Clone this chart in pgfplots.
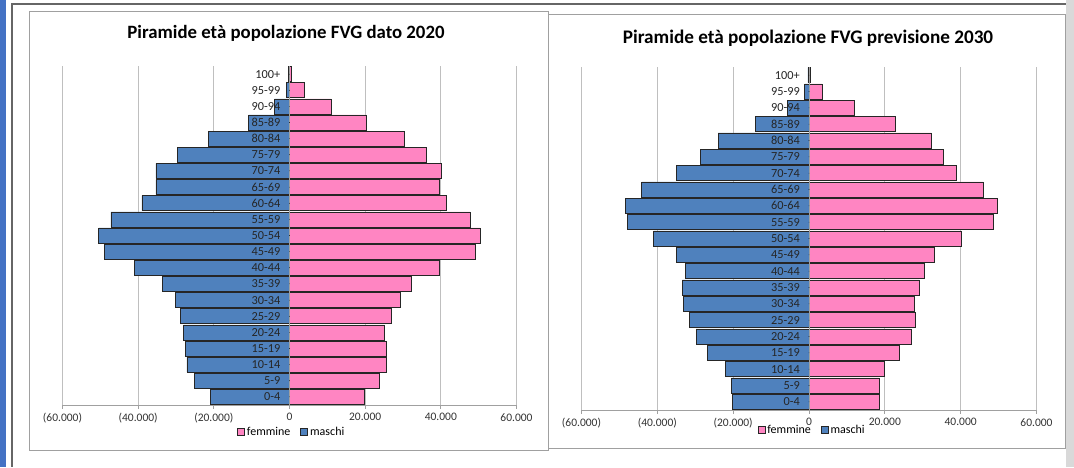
\documentclass[border=0pt]{standalone}
\usepackage{pgfplots}
\pgfplotsset{compat=1.18}
\usepackage{fontspec}
\setmainfont{Carlito}
\definecolor{mblue}{HTML}{4F81BD}
\definecolor{fpink}{HTML}{FF85C2}
\definecolor{gridg}{HTML}{BFBFBF}
\definecolor{axg}{HTML}{A0A0A0}
\definecolor{frameblue}{HTML}{4472C4}

\pgfplotsset{
  pyr/.style={
    scale only axis,
    anchor=south west,
    xmin=-60000, xmax=60000,
    ymin=-0.5, ymax=20.5,
    axis x line*=bottom,
    axis y line=none,
    x axis line style={axg, line width=0.8pt},
    xtick={-60000,-40000,-20000,0,20000,40000,60000},
    xticklabels={{(60.000)},{(40.000)},{(20.000)},0,{20.000},{40.000},{60.000}},
    xtick align=outside,
    major tick length=4pt,
    xtick style={axg, line width=0.8pt},
    xmajorgrids,
    major grid style={gridg, line width=0.8pt},
    ytick=\empty,
    xticklabel style={font=\fontsize{11.5}{13}\selectfont, text=black!80, yshift=-1pt},
    scaled x ticks=false,
    clip=false,
    legend columns=2,
    legend style={draw=none, fill=none, font=\fontsize{12}{13}\selectfont, anchor=center,
      /tikz/every even column/.append style={column sep=8pt}, inner sep=0pt},
    legend image code/.code={\draw[#1, line width=0.7pt] (0pt,-3.5pt) rectangle (7pt,3.5pt);},
  },
  barf/.style={xbar, bar shift=0pt, bar width=15pt, fill=fpink, draw=black!85, line width=0.7pt},
  barm/.style={xbar, bar shift=0pt, bar width=15pt, fill=mblue, draw=black!85, line width=0.7pt},
  labs/.style={only marks, mark=*, mark size=0.01pt, mark options={draw=none, fill=none},
    nodes near coords, point meta=explicit symbolic,
    every node near coord/.append style={anchor=east, xshift=-9pt, inner sep=0pt,
      font=\fontsize{12.3}{13}\selectfont, text=black!85}, forget plot},
}

\begin{document}
\begin{tikzpicture}[x=1pt, y=1pt]
% background and frames
\fill[white] (0pt,0pt) rectangle (1074pt,467pt);
\fill[frameblue] (0pt,0pt) rectangle (6pt,467pt);
\fill[black!15] (1066pt,0pt) rectangle (1074pt,467pt);
\draw[black!60, line width=1.2pt] (12pt,0pt) -- (12pt,463pt) -- (1066pt,463pt);
\draw[axg, line width=1pt] (29pt,16pt) rectangle (548pt,455pt);
\draw[axg, line width=1pt] (548pt,18pt) rectangle (1065pt,452pt);

\node[font=\fontsize{18.8}{20}\selectfont\bfseries] at (286pt,434pt) {Piramide età popolazione FVG dato 2020};
\node[font=\fontsize{19.2}{20}\selectfont\bfseries] at (808pt,429pt) {Piramide età popolazione FVG previsione 2030};

% ---------- 2020 ----------
\begin{axis}[pyr, at={(62.5pt,62pt)}, width=454pt, height=339pt,
  legend style={at={(0.505,-0.08)}}]
\addplot[barf] coordinates {
 (19900,0) (23700,1) (25700,2) (25500,3) (25100,4) (26900,5) (29200,6) (32200,7)
 (39700,8) (49000,9) (50400,10) (47700,11) (41400,12) (39500,13) (40100,14)
 (36100,15) (30400,16) (20300,17) (11000,18) (3900,19) (500,20)};
\addlegendentry{femmine}
\addplot[barm] coordinates {
 (-20800,0) (-25200,1) (-27100,2) (-27400,3) (-28000,4) (-28900,5) (-30100,6) (-33700,7)
 (-41000,8) (-49000,9) (-50400,10) (-47200,11) (-39000,12) (-35300,13) (-35300,14)
 (-29600,15) (-21500,16) (-10800,17) (-3900,18) (-900,19) (-200,20)};
\addlegendentry{maschi}
\draw[axg, line width=0.8pt] (axis cs:0,-0.5) -- (axis cs:0,20.5);
\addplot[labs] coordinates {
 (0,0) [0-4] (0,1) [5-9] (0,2) [10-14] (0,3) [15-19] (0,4) [20-24] (0,5) [25-29]
 (0,6) [30-34] (0,7) [35-39] (0,8) [40-44] (0,9) [45-49] (0,10) [50-54] (0,11) [55-59]
 (0,12) [60-64] (0,13) [65-69] (0,14) [70-74] (0,15) [75-79] (0,16) [80-84]
 (0,17) [85-89] (0,18) [90-94] (0,19) [95-99] (0,20) [100+]};
\end{axis}

% ---------- 2030 ----------
\begin{axis}[pyr, at={(581.5pt,57pt)}, width=455pt, height=343pt,
  legend style={at={(0.507,-0.058)}}]
\addplot[barf] coordinates {
 (18600,0) (18500,1) (19900,2) (23900,3) (26900,4) (28000,5) (27900,6) (29000,7)
 (30300,8) (33000,9) (40100,10) (48700,11) (49600,12) (45900,13) (38900,14)
 (35300,15) (32300,16) (22900,17) (12000,18) (3400,19) (400,20)};
\addlegendentry{femmine}
\addplot[barm] coordinates {
 (-20200,0) (-20400,1) (-22000,2) (-26900,3) (-29800,4) (-31500,5) (-33100,6) (-33400,7)
 (-32700,8) (-34900,9) (-41000,10) (-47900,11) (-48500,12) (-44100,13) (-35000,14)
 (-28600,15) (-24000,16) (-14200,17) (-5800,18) (-1100,19) (-300,20)};
\addlegendentry{maschi}
\draw[axg, line width=0.8pt] (axis cs:0,-0.5) -- (axis cs:0,20.5);
\addplot[labs] coordinates {
 (0,0) [0-4] (0,1) [5-9] (0,2) [10-14] (0,3) [15-19] (0,4) [20-24] (0,5) [25-29]
 (0,6) [30-34] (0,7) [35-39] (0,8) [40-44] (0,9) [45-49] (0,10) [50-54] (0,11) [55-59]
 (0,12) [60-64] (0,13) [65-69] (0,14) [70-74] (0,15) [75-79] (0,16) [80-84]
 (0,17) [85-89] (0,18) [90-94] (0,19) [95-99] (0,20) [100+]};
\end{axis}
\end{tikzpicture}
\end{document}
